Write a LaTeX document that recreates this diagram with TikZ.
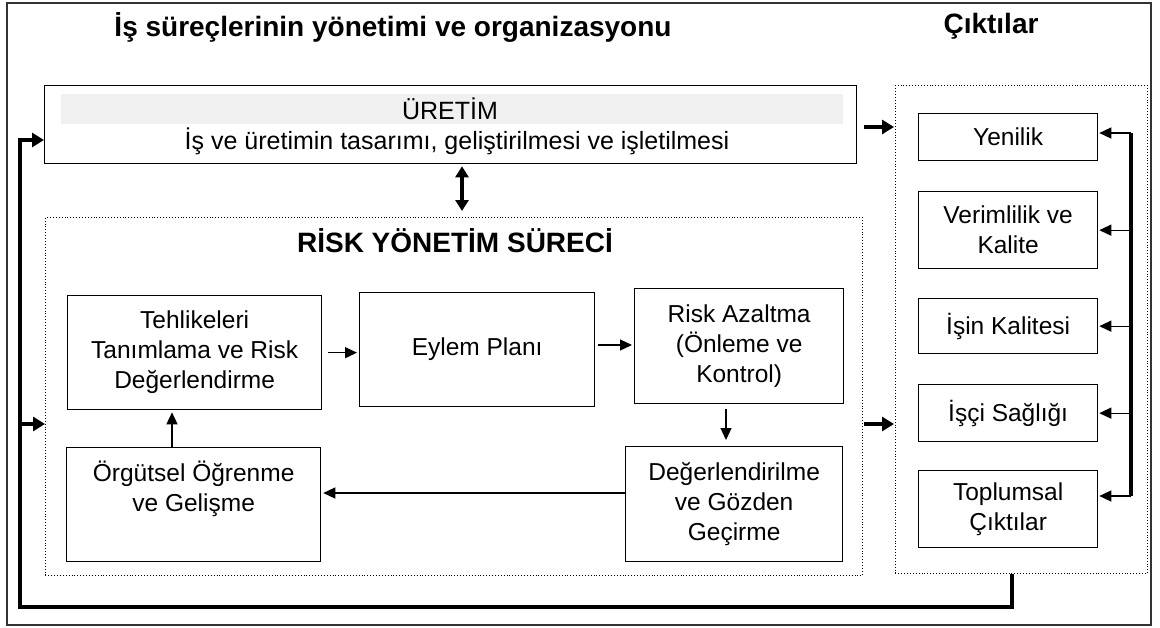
\documentclass[tikz,border=0pt]{standalone}
\usepackage{fontspec}
\setmainfont{Liberation Sans}
\usetikzlibrary{arrows.meta}
\begin{document}
\begin{tikzpicture}[x=1pt,y=-1pt,
  box/.style={draw, line width=1.3pt, align=center, inner sep=0pt, anchor=north west, font=\fontsize{24.5}{30}\selectfont},
  dotbox/.style={draw, dotted, line width=0.9pt, anchor=north west, inner sep=0pt},
  thinarrow/.style={-{Triangle[length=12pt,width=11pt]}, line width=1.3pt},
  thickarrow/.style={-{Triangle[length=12pt,width=14pt]}, line width=4.5pt},
  title/.style={font=\fontsize{28}{32}\selectfont\bfseries},
  plain/.style={font=\fontsize{25}{30}\selectfont},
]
\useasboundingbox (0,0) rectangle (1160,627);
\draw[line width=1.3pt, black!80] (7,3) rectangle (1151,625);

% titles
\node[title] (t1) at (393,27) {İş süreçlerinin yönetimi ve organizasyonu};
\node[title] (t2) at (991,26) {Çıktılar};

% URETIM
\node[box, minimum width=812pt, minimum height=78pt] (uretim) at (44,85) {};
\fill[black!6] (61,94) rectangle (843,124);
\node[plain] (ut) at (450,109) {ÜRETİM};
\node[plain] (us) at (457,141) {İş ve üretimin tasarımı, geliştirilmesi ve işletilmesi};

% risk area
\node[dotbox, minimum width=817pt, minimum height=358pt] (risk) at (45,217) {};
\node[title] (rt) at (455,241) {RİSK YÖNETİM SÜRECİ};

\node[box, minimum width=254pt, minimum height=114pt] (teh) at (67,295) {Tehlikeleri\\Tanımlama ve Risk\\Değerlendirme};
\node[box, minimum width=235pt, minimum height=114pt] (eyl) at (359,292) {Eylem Planı};
\node[box, minimum width=209pt, minimum height=115pt] (azl) at (634,288) {Risk Azaltma\\(Önleme ve\\Kontrol)};
\node[box, minimum width=217pt, minimum height=115pt] (deg) at (625,446) {Değerlendirilme\\ve Gözden\\Geçirme};
\node[box, minimum width=254pt, minimum height=114pt] (org) at (66,447) {Örgütsel Öğrenme\\ve Gelişme\\[6pt]~};

\coordinate (ax) at (726,0);
\coordinate (ey) at (0,345);
\coordinate (oy) at (0,493);
\draw[thinarrow, shorten <=6pt, shorten >=2pt] (teh.east) -- (eyl.west |- teh.east);
\draw[thinarrow, shorten <=3pt, shorten >=2pt] (eyl.east |- ey) -- (azl.west |- ey);
\draw[thinarrow, shorten <=5pt, shorten >=6pt] (azl.south -| ax) -- (deg.north -| ax);
\draw[thinarrow, shorten >=2pt] (deg.west |- oy) -- (org.east |- oy);
\coordinate (ox) at (172,0);
\draw[thinarrow, shorten >=2pt] (org.north -| ox) -- (teh.south -| ox);

% double arrow
\coordinate (dx) at (462,0);
\draw[line width=4pt, {Triangle[length=11pt,width=13pt]}-{Triangle[length=11pt,width=13pt]}, shorten <=2pt, shorten >=6pt] (uretim.south -| dx) -- (risk.north -| dx);

% outputs
\node[dotbox, minimum width=252pt, minimum height=488pt] (out) at (895,85) {};
\node[box, minimum width=179pt, minimum height=47pt] (yen) at (918,113) {Yenilik};
\node[box, minimum width=179pt, minimum height=77pt] (ver) at (918,191) {Verimlilik ve\\Kalite};
\node[box, minimum width=179pt, minimum height=55pt] (isk) at (918,298) {İşin Kalitesi};
\node[box, minimum width=179pt, minimum height=57pt] (iss) at (918,384) {İşçi Sağlığı};
\node[box, minimum width=179pt, minimum height=77pt] (top) at (918,470) {Toplumsal\\Çıktılar};

\coordinate (bus) at (1131,0);
\coordinate (yy) at (0,133);
\coordinate (topy) at (0,496);
\draw[line width=4pt] (bus |- yy) -- (bus |- topy);
\draw[thinarrow, shorten >=1pt] (bus |- yy) -- (yen.east |- yy);
\draw[thinarrow, shorten >=1pt] (bus |- ver.east) -- (ver.east);
\draw[thinarrow, shorten >=1pt] (bus |- isk.east) -- (isk.east);
\draw[thinarrow, shorten >=1pt] (bus |- iss.east) -- (iss.east);
\draw[thinarrow, shorten >=1pt] (bus |- topy) -- (top.east |- topy);

% thick flows
\coordinate (uy) at (0,127);
\coordinate (ry) at (0,424);
\coordinate (ly) at (0,140);
\draw[thickarrow, shorten <=7pt, shorten >=1pt] (uretim.east |- uy) -- (out.west |- uy);
\draw[thickarrow, shorten <=1pt, shorten >=1pt] (risk.east |- ry) -- (out.west |- ry);
\coordinate (fb) at (1012,607);
\coordinate (fbl) at (20,607);
\draw[thickarrow, line join=miter] (out.south -| fb) -- (fb) -- (fbl) -- (fbl |- ly) -- (uretim.west |- ly);
\draw[thickarrow] (fbl |- ry) -- (risk.west |- ry);
\end{tikzpicture}
\end{document}
